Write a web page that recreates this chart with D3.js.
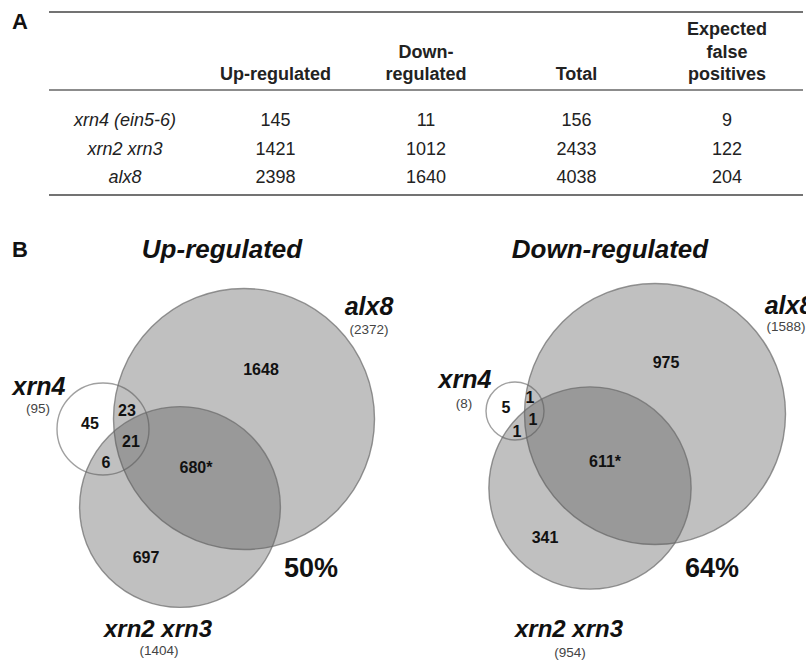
<!DOCTYPE html>
<html>
<head>
<meta charset="utf-8">
<script src="https://cdn.jsdelivr.net/npm/d3@7"></script>
<style>
  body { margin: 0; background: #fff; }
  svg { display: block; font-family: "Liberation Sans", Arial, sans-serif; }
</style>
</head>
<body>
<div id="chart"></div>
<script>
// Panel A data (table)
var columnHeaders = [["Up-regulated"], ["Down-", "regulated"], ["Total"], ["Expected", "false", "positives"]];
var genotypes = ["xrn4 (ein5-6)", "xrn2 xrn3", "alx8"];
var upRegulated = [145, 1421, 2398];
var downRegulated = [11, 1012, 1640];
var totalGenes = [156, 2433, 4038];
var falsePositives = [9, 122, 204];

// Panel B data (venn)
var vennTitles = ["Up-regulated", "Down-regulated"];
var setNames = ["alx8", "xrn2 xrn3", "xrn4"];
// regions: alx8 only, xrn2xrn3 only, xrn4 only, alx8+xrn2xrn3, alx8+xrn4, xrn2xrn3+xrn4, all three
var upRegions = [1648, 697, 45, 680, 23, 6, 21];
var downRegions = [975, 341, 5, 611, 1, 1, 1];
var upSetSizes = [2372, 1404, 95];
var downSetSizes = [1588, 954, 8];
var overlapPercent = [50, 64];

var svgWidth = 806;
var svgHeight = 660;

var svg = d3.select("#chart").append("svg")
  .attr("width", svgWidth)
  .attr("height", svgHeight);

// ---------- Panel A ----------
svg.append("text")
  .attr("x", 12).attr("y", 29)
  .attr("font-size", "22px").attr("font-weight", "bold")
  .attr("fill", "#111")
  .text("A");

var tableLeft = 49, tableRight = 803;

var colScale = d3.scalePoint()
  .domain(d3.range(columnHeaders.length + 1))
  .range([125, 727]);

var rowScale = d3.scalePoint()
  .domain(genotypes)
  .range([126, 183]);

var table = svg.append("g").attr("class", "table");

// horizontal rules
[12, 90, 195].forEach(function(y, i) {
  table.append("line")
    .attr("x1", tableLeft).attr("x2", tableRight)
    .attr("y1", y).attr("y2", y)
    .attr("stroke", i == 1 ? "#666" : "#444")
    .attr("stroke-width", 1.6);
});

// header (bottom aligned)
columnHeaders.forEach(function(lines, i) {
  var t = table.append("text")
    .attr("text-anchor", "middle")
    .attr("font-size", "18px")
    .attr("font-weight", "bold")
    .attr("fill", "#222");
  lines.forEach(function(line, j) {
    t.append("tspan")
      .attr("x", colScale(i + 1))
      .attr("y", 80 - (lines.length - 1 - j) * 22.5)
      .text(line);
  });
});

// row labels
table.selectAll(".rowlabel").data(genotypes).enter()
  .append("text")
  .attr("class", "rowlabel")
  .attr("x", colScale(0))
  .attr("y", d => rowScale(d))
  .attr("text-anchor", "middle")
  .attr("font-size", "18px")
  .attr("font-style", "italic")
  .attr("fill", "#222")
  .text(d => d);

// values
[upRegulated, downRegulated, totalGenes, falsePositives].forEach(function(col, i) {
  table.selectAll(".col" + i).data(col).enter()
    .append("text")
    .attr("class", "col" + i)
    .attr("x", colScale(i + 1))
    .attr("y", (d, j) => rowScale(genotypes[j]))
    .attr("text-anchor", "middle")
    .attr("font-size", "18px")
    .attr("fill", "#222")
    .text(d => d);
});

// ---------- Panel B ----------
svg.append("text")
  .attr("x", 12).attr("y", 257)
  .attr("font-size", "22px").attr("font-weight", "bold")
  .attr("fill", "#111")
  .text("B");

// layout per panel (pixels, offsets relative to the alx8 circle centre)
var panels = [
  {
    title: vennTitles[0], regions: upRegions, sizes: upSetSizes, pct: overlapPercent[0],
    cx: 244, cy: 419, titleX: 222,
    centers: [[0, 0], [-64, 88], [-141, 10]], smallR: 46,
    regionPos: [[17, -50], [-98, 138], [-154, 4], [-48, 48], [-117, -9], [-138, 43], [-113, 22]],
    namePos: [[125, -104], [-86, 218], [-205, -24]],
    countPos: [[125, -85], [-85, 236], [-206, -6]],
    pctPos: [67, 158]
  },
  {
    title: vennTitles[1], regions: downRegions, sizes: downSetSizes, pct: overlapPercent[1],
    cx: 655, cy: 414, titleX: 610,
    centers: [[0, 0], [-65, 74], [-140, -3]], smallR: 29,
    regionPos: [[11, -52], [-110, 123], [-149, -7], [-50, 47], [-125, -17], [-138, 17], [-122, 5]],
    namePos: [[134, -100], [-86, 223], [-190, -26]],
    countPos: [[131, -83], [-85, 243], [-191, -6]],
    pctPos: [57, 163]
  }
];

panels.forEach(function(p) {
  svg.append("text")
    .attr("x", p.titleX).attr("y", 258)
    .attr("text-anchor", "middle")
    .attr("font-size", "26px")
    .attr("font-weight", "bold")
    .attr("font-style", "italic")
    .attr("fill", "#111")
    .text(p.title);

  var g = svg.append("g")
    .attr("transform", `translate(${p.cx}, ${p.cy})`);

  // area proportional radius for the two large sets
  var rScale = d3.scaleSqrt()
    .domain([0, p.sizes[0]])
    .range([0, 130.5]);

  // xrn4 first (white), then alx8 and xrn2 xrn3 translucent on top
  g.append("circle")
    .attr("cx", p.centers[2][0]).attr("cy", p.centers[2][1])
    .attr("r", p.smallR)
    .attr("fill", "#fff")
    .attr("stroke", "#a0a0a0")
    .attr("stroke-width", 1.4);

  [0, 1].forEach(function(i) {
    g.append("circle")
      .attr("cx", p.centers[i][0]).attr("cy", p.centers[i][1])
      .attr("r", rScale(p.sizes[i]))
      .attr("fill", "#5a5a5a")
      .attr("fill-opacity", 0.38)
      .attr("stroke", "#6a6a6a")
      .attr("stroke-opacity", 0.7)
      .attr("stroke-width", 1.4);
  });

  // region counts
  g.selectAll(".region").data(p.regions).enter()
    .append("text")
    .attr("class", "region")
    .attr("x", (d, i) => p.regionPos[i][0])
    .attr("y", (d, i) => p.regionPos[i][1])
    .attr("dy", "0.35em")
    .attr("text-anchor", "middle")
    .attr("font-size", "16px")
    .attr("font-weight", "bold")
    .attr("fill", "#111")
    .text((d, i) => i == 3 ? d + "*" : d);

  // set names and sizes
  setNames.forEach(function(name, i) {
    g.append("text")
      .attr("x", p.namePos[i][0]).attr("y", p.namePos[i][1])
      .attr("text-anchor", "middle")
      .attr("font-size", i == 1 ? "24px" : "25px")
      .attr("font-weight", "bold")
      .attr("font-style", "italic")
      .attr("fill", "#111")
      .text(name);
    g.append("text")
      .attr("x", p.countPos[i][0]).attr("y", p.countPos[i][1])
      .attr("text-anchor", "middle")
      .attr("font-size", "13.5px")
      .attr("fill", "#444")
      .text("(" + p.sizes[i] + ")");
  });

  g.append("text")
    .attr("x", p.pctPos[0]).attr("y", p.pctPos[1])
    .attr("text-anchor", "middle")
    .attr("font-size", "27px")
    .attr("font-weight", "bold")
    .attr("fill", "#111")
    .text(p.pct + "%");
});
</script>
</body>
</html>
